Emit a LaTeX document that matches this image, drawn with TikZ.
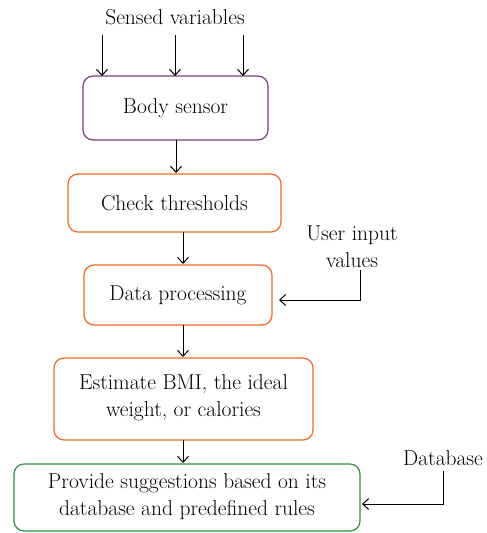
\documentclass[tikz,border=0pt]{standalone}
\usepackage{fontspec}
\usetikzlibrary{arrows.meta}
\definecolor{cpurple}{HTML}{7A3E7E}
\definecolor{corange}{HTML}{F26A22}
\definecolor{cgreen}{HTML}{2F8F45}
\begin{document}
\begin{tikzpicture}[x=1pt,y=-1pt,
  txt/.style={font=\fontsize{21.5}{27}\selectfont, align=center, inner sep=0pt},
  box/.style={line width=1.2pt, rounded corners=10pt},
  conn/.style={line width=1pt, -{Straight Barb[length=6pt,width=11pt,line width=1pt]}}]
\useasboundingbox (0,0) rectangle (487,533);
% boxes
\draw[box,draw=cpurple] (83,76) rectangle (268,140);
\node[txt] (bs) at (175.5,108) {Body sensor};
\coordinate (bsT1) at (102,76); \coordinate (bsT2) at (175,76); \coordinate (bsT3) at (243,76);
\draw[box,draw=corange] (68,174) rectangle (281,232);
\node[txt] (ct) at (174.5,203) {Check thresholds};
\draw[box,draw=corange] (84,265) rectangle (272,325);
\node[txt] (dp) at (178,295) {Data processing};
\draw[box,draw=corange] (54,358) rectangle (313,440);
\node[txt] (eb) at (183.5,398) {Estimate BMI, the ideal\\weight, or calories};
\draw[box,draw=cgreen] (14,464) rectangle (360,531);
\node[txt] (ps) at (187,497) {Provide suggestions based on its\\database and predefined rules};
% labels
\node[txt] (sv) at (175,17) {Sensed variables};
\node[txt] (ui) at (352,247) {User input\\values};
\node[txt] (db) at (443,458) {Database};
% connectors
\coordinate (s1) at (102,35); \coordinate (s2) at (175,35); \coordinate (s3) at (243,35);
\draw[conn] (s1) -- (bsT1);
\draw[conn] (s2) -- (bsT2);
\draw[conn] (s3) -- (bsT3);
\coordinate (a1) at (176,140); \coordinate (a1e) at (176,173);
\draw[conn] (a1) -- (a1e);
\coordinate (a2) at (183,232); \coordinate (a2e) at (183,264);
\draw[conn] (a2) -- (a2e);
\coordinate (a3) at (183,325); \coordinate (a3e) at (183,357);
\draw[conn] (a3) -- (a3e);
\coordinate (a4) at (183,440); \coordinate (a4e) at (183,463);
\draw[conn] (a4) -- (a4e);
\coordinate (u1) at (360,270); \coordinate (u2) at (279,300);
\draw[conn] (u1) |- (u2);
\coordinate (d1) at (443,471); \coordinate (d2) at (362,504);
\draw[conn] (d1) |- (d2);
\end{tikzpicture}
\end{document}
